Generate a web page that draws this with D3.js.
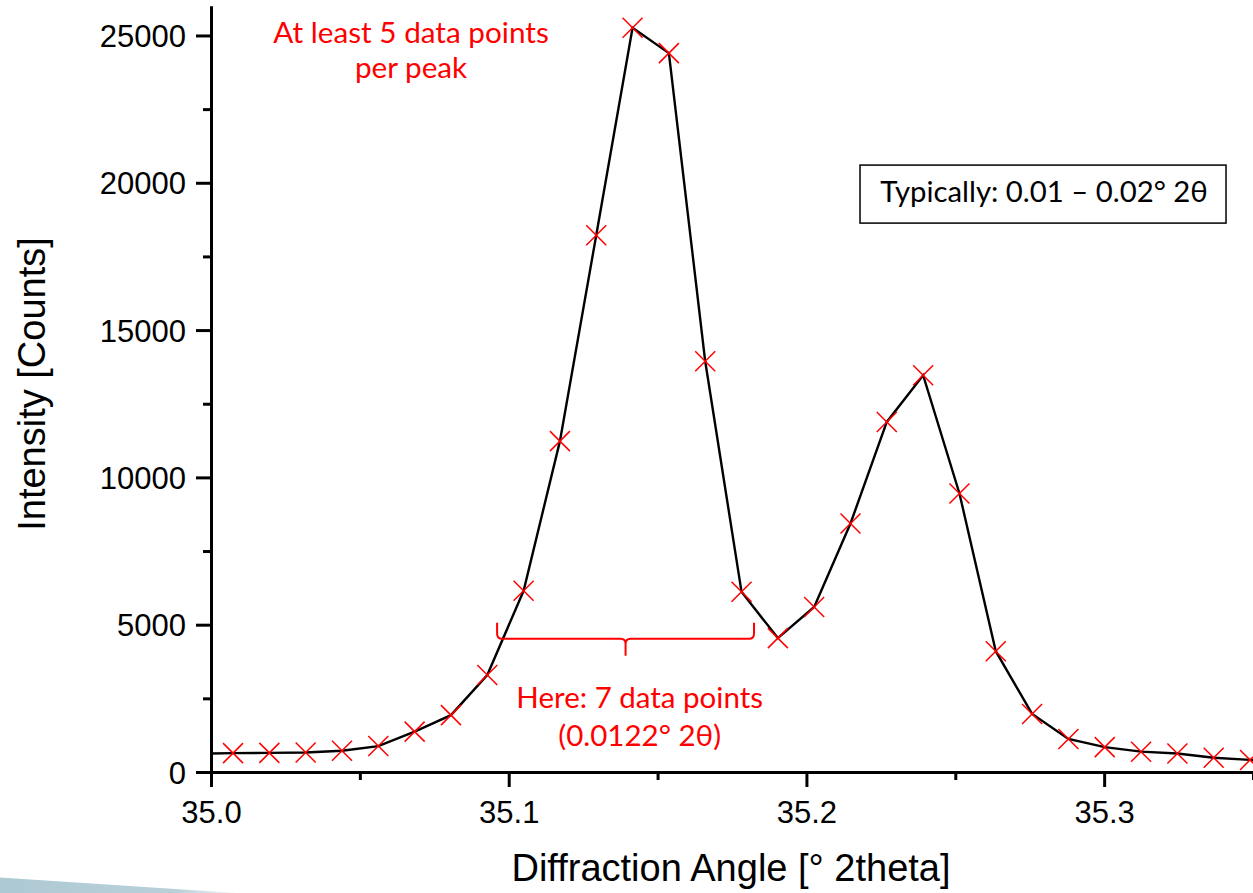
<!DOCTYPE html>
<html>
<head>
<meta charset="utf-8">
<script src="https://cdn.jsdelivr.net/npm/d3@7"></script>
<style>
  html, body { margin: 0; padding: 0; background: #fff; }
  svg { display: block; }
</style>
</head>
<body>
<svg id="chart" width="1253" height="893"></svg>
<script>
// Diffraction angle of each measured step (° 2theta) and counts at that step
const angles = [
  34.9952, 35.0074, 35.0196, 35.0318, 35.0440, 35.0562, 35.0684, 35.0806,
  35.0928, 35.1050, 35.1172, 35.1294, 35.1416, 35.1538, 35.1660, 35.1782,
  35.1904, 35.2026, 35.2148, 35.2270, 35.2392, 35.2514, 35.2636, 35.2758,
  35.2880, 35.3002, 35.3124, 35.3246, 35.3368, 35.3490, 35.3612
];
const counts = [
  620, 640, 650, 660, 720, 880, 1370, 1930,
  3290, 6150, 11230, 18220, 25260, 24400, 13940, 6115,
  4545, 5600, 8436, 11883, 13467, 9454, 4100, 1970,
  1120, 845, 690, 630, 485, 410, 370
];

// Axis ticks
const xMajorTicks = [35.0, 35.1, 35.2, 35.3];
const xMinorTicks = [35.05, 35.15, 35.25, 35.35];
const yMajorTicks = [0, 5000, 10000, 15000, 20000, 25000];
const yMinorTicks = [2500, 7500, 12500, 17500, 22500];

// Axis titles and annotation text
const xTitle = "Diffraction Angle [° 2theta]";
const yTitle = "Intensity [Counts]";
const topNote = ["At least 5 data points", "per peak"];
const braceNote = ["Here: 7 data points", "(0.0122° 2θ)"];
const boxNote = "Typically: 0.01 – 0.02° 2θ";
// Span marked by the brace (° 2theta) and the intensity it sits at
const braceSpan = [35.0961, 35.1824];
const braceLevel = 5000;
// Where the notes are anchored, in data units
const topNoteAt = [35.0672, 25800];
const braceNoteAt = [35.1440, 2180];
const boxNoteAt = [35.2180, 20600];

const svg = d3.select("#chart");
const plot = { left: 211, right: 1253, top: 6, bottom: 772 };

const x = d3.scaleLinear().domain([35.0, 35.35]).range([plot.left, plot.right]);
const y = d3.scaleLinear().domain([0, 26000]).range([plot.bottom, plot.top]);

const data = angles.map((a, i) => ({ a, c: counts[i] }));

// Slide decoration wedge in the bottom-left corner
const defs = svg.append("defs");
const grad = defs.append("linearGradient").attr("id", "wedge")
  .attr("x1", "0").attr("x2", "1").attr("y1", "0").attr("y2", "0");
grad.append("stop").attr("offset", "0").attr("stop-color", "#adc9d3");
grad.append("stop").attr("offset", "0.75").attr("stop-color", "#b9d0d9");
grad.append("stop").attr("offset", "1").attr("stop-color", "#eef4f6");
svg.append("path")
  .attr("d", "M0,877.5 L236,893 L0,893 Z")
  .attr("fill", "url(#wedge)");

defs.append("clipPath").attr("id", "plotClip")
  .append("rect")
  .attr("x", plot.left).attr("y", 0)
  .attr("width", plot.right - plot.left).attr("height", plot.bottom);

const axisFont = "'Liberation Sans', Arial, sans-serif";
const noteFont = "Lato, 'Open Sans', sans-serif";

// Data line and markers
const g = svg.append("g").attr("clip-path", "url(#plotClip)");
g.append("path")
  .datum(data)
  .attr("fill", "none")
  .attr("stroke", "#000")
  .attr("stroke-width", 2.4)
  .attr("stroke-linejoin", "miter")
  .attr("d", d3.line().x(d => x(d.a)).y(d => y(d.c)));

const cross = 10;
g.selectAll("path.mark")
  .data(data)
  .join("path")
  .attr("class", "mark")
  .attr("fill", "none")
  .attr("stroke", "#ff0000")
  .attr("stroke-width", 1.5)
  .attr("d", d => {
    const px = x(d.a), py = y(d.c);
    return `M${px - cross},${py - cross}L${px + cross},${py + cross}` +
           `M${px - cross},${py + cross}L${px + cross},${py - cross}`;
  });

function styleAxis(sel) {
  sel.selectAll(".domain").attr("stroke", "#000").attr("stroke-width", 3);
  sel.selectAll(".tick line").attr("stroke", "#000").attr("stroke-width", 3);
  sel.selectAll(".tick text")
    .attr("font-family", axisFont).attr("font-size", 31).attr("fill", "#000");
}

// X axis: minor ticks first, then the major ticks with labels on top
const xMinorG = svg.append("g").attr("transform", `translate(0,${plot.bottom})`)
  .call(d3.axisBottom(x).tickValues(xMinorTicks).tickSize(8).tickSizeOuter(0).tickFormat(""));
styleAxis(xMinorG);
const xAxisG = svg.append("g").attr("transform", `translate(0,${plot.bottom})`)
  .call(d3.axisBottom(x).tickValues(xMajorTicks).tickSize(15).tickSizeOuter(0)
    .tickFormat(d3.format(".1f")));
styleAxis(xAxisG);
xAxisG.selectAll(".tick text").attr("y", 29).attr("dy", "0.71em");

// Y axis
const yMinorG = svg.append("g").attr("transform", `translate(${plot.left},0)`)
  .call(d3.axisLeft(y).tickValues(yMinorTicks).tickSize(8).tickSizeOuter(0).tickFormat(""));
styleAxis(yMinorG);
const yAxisG = svg.append("g").attr("transform", `translate(${plot.left},0)`)
  .call(d3.axisLeft(y).tickValues(yMajorTicks).tickSize(15).tickSizeOuter(0)
    .tickFormat(d3.format("d")));
styleAxis(yAxisG);
yAxisG.selectAll(".tick text").attr("x", -25).attr("dy", "0.36em");

// Axis titles
svg.append("text")
  .attr("x", 731)
  .attr("y", 881)
  .attr("text-anchor", "middle")
  .attr("font-family", axisFont).attr("font-size", 38).attr("fill", "#000")
  .text(xTitle);
svg.append("text")
  .attr("transform", `translate(45,384) rotate(-90)`)
  .attr("text-anchor", "middle")
  .attr("font-family", axisFont).attr("font-size", 38).attr("fill", "#000")
  .text(yTitle);

// Note above the main peak
const tn = svg.append("text")
  .attr("text-anchor", "middle")
  .attr("font-family", noteFont).attr("font-size", 29.7).attr("fill", "#ff0000");
topNote.forEach((t, i) => {
  tn.append("tspan").attr("x", x(topNoteAt[0])).attr("y", y(topNoteAt[1]) + 31 + i * 35).text(t);
});

// Brace under the main peak
const bx0 = x(braceSpan[0]), bx1 = x(braceSpan[1]);
const by = y(braceLevel) - 2, bh = 16, tip = 17, r = 5;
const bm = (bx0 + bx1) / 2;
const braceD = [
  `M${bx0},${by}`,
  `L${bx0},${by + bh - r}`,
  `Q${bx0},${by + bh} ${bx0 + r},${by + bh}`,
  `L${bm - r},${by + bh}`,
  `Q${bm},${by + bh} ${bm},${by + bh + r}`,
  `L${bm},${by + bh + tip}`,
  `M${bm},${by + bh + r}`,
  `Q${bm},${by + bh} ${bm + r},${by + bh}`,
  `L${bx1 - r},${by + bh}`,
  `Q${bx1},${by + bh} ${bx1},${by + bh - r}`,
  `L${bx1},${by}`
].join("");
svg.append("path")
  .attr("d", braceD)
  .attr("fill", "none")
  .attr("stroke", "#ff0000")
  .attr("stroke-width", 2);

const bn = svg.append("text")
  .attr("text-anchor", "middle")
  .attr("font-family", noteFont).attr("font-size", 29.5).attr("fill", "#ff0000");
braceNote.forEach((t, i) => {
  bn.append("tspan").attr("x", x(braceNoteAt[0])).attr("y", y(braceNoteAt[1]) + i * 38).text(t);
});

// Boxed note
const boxX = x(boxNoteAt[0]), boxY = y(boxNoteAt[1]);
svg.append("rect")
  .attr("x", boxX).attr("y", boxY)
  .attr("width", 366).attr("height", 58)
  .attr("fill", "#fff").attr("stroke", "#000").attr("stroke-width", 1.5);
svg.append("text")
  .attr("x", boxX + 184).attr("y", boxY + 37)
  .attr("text-anchor", "middle")
  .attr("font-family", noteFont).attr("font-size", 29.3).attr("fill", "#000")
  .text(boxNote);
</script>
</body>
</html>
